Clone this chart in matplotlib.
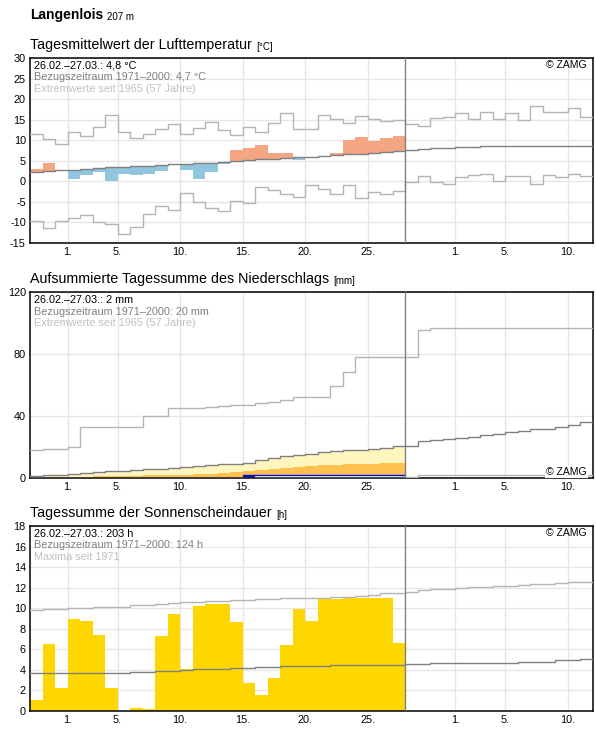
import numpy as np
import matplotlib
matplotlib.use('Agg')
from matplotlib import pyplot as plt

plt.rcParams['font.family'] = ['Liberation Sans', 'DejaVu Sans']
plt.rcParams['axes.unicode_minus'] = False

# ---------- Data ---------- #
# days from 26.02. (day 0) to 11.04. (day 44), observed period = first 30 days
tick_pos = [3, 7, 12, 17, 22, 27, 34, 38, 43]
tick_labels = ['1.', '5.', '10.', '15.', '20.', '25.', '1.', '5.', '10.']

temp_actual = [3.1, 4.55, 2.6, 0.65, 1.6, 2.3, 0.0, 1.7, 1.46, 1.7,
               2.6, 4.0, 2.85, 0.65, 2.35, 4.3, 7.5, 8.0, 8.9, 7.0,
               7.0, 5.2, 6.0, 6.2, 7.0, 10.1, 10.7, 9.75, 10.5, 11.0]
temp_mean = [2.3, 2.5, 2.7, 2.8, 3.0, 3.2, 3.4, 3.5, 3.65, 3.85,
             4.0, 4.1, 4.25, 4.35, 4.45, 4.65, 4.9, 5.15, 5.35, 5.55,
             5.65, 5.8, 6.0, 6.2, 6.4, 6.6, 6.75, 6.95, 7.2, 7.45,
             7.6, 7.8, 8.05, 8.2, 8.4, 8.45, 8.5, 8.5, 8.5, 8.5,
             8.5, 8.5, 8.5, 8.5, 8.5]
temp_max = [11.5, 10.2, 9.1, 12.0, 11.05, 13.25, 16.1, 12.0, 10.6, 11.5,
            12.75, 14.0, 11.5, 13.0, 14.5, 12.5, 11.3, 13.25, 12.0, 14.2,
            16.6, 12.8, 12.8, 16.2, 15.2, 14.3, 16.0, 15.1, 14.6, 14.8,
            14.0, 13.5, 15.5, 15.7, 16.5, 15.2, 16.8, 15.2, 16.5, 14.8,
            18.4, 16.8, 16.8, 17.9, 15.7]
temp_min = [-9.6, -11.4, -9.75, -8.9, -8.3, -9.9, -10.4, -12.85, -11.2, -8.0,
            -6.0, -7.0, -2.8, -5.0, -6.5, -7.2, -4.7, -5.2, -1.5, -2.0,
            -3.1, -3.8, -0.8, -1.9, -3.1, -0.8, -4.1, -2.7, -3.1, -2.4,
            -0.2, 1.4, -0.2, -0.7, 1.0, 1.45, 1.85, 0.15, 1.2, 1.2,
            -0.55, 1.45, 1.0, 1.7, 1.3]

rain_daily = [0, 0, 0, 0, 0, 0, 0, 0, 0, 0,
              0, 0, 0, 0, 0, 0, 0, 1.8, 0, 0,
              0, 0, 0, 0, 0, 0, 0, 0, 0, 0]
rain_mean = [1.1, 1.7, 1.9, 2.6, 3.2, 3.7, 4.3, 4.7, 5.2, 6.0,
             6.0, 6.5, 7.1, 7.8, 8.6, 9.1, 9.3, 9.5, 11.6, 12.7,
             14.2, 15.1, 15.7, 16.6, 17.3, 17.9, 18.3, 19.0, 19.4, 20.5,
             20.7, 23.7, 24.4, 25.2, 25.9, 26.5, 27.6, 28.5, 29.6, 30.4,
             31.3, 31.9, 32.6, 34.1, 36.0]
rain_low = [0.2, 0.4, 0.4, 0.6, 0.9, 1.1, 1.3, 1.3, 1.5, 1.9,
            1.9, 1.9, 2.2, 2.4, 2.6, 3.5, 4.1, 4.7, 5.2, 5.6,
            6.5, 7.1, 7.8, 8.2, 8.4, 8.8, 9.1, 9.3, 9.5, 9.5]
rain_max = [18.3, 18.8, 19.0, 20.0, 32.6, 32.6, 32.6, 32.6, 32.6, 40.0,
            40.0, 45.0, 45.0, 45.2, 46.0, 46.6, 47.3, 47.3, 48.2, 49.0,
            50.2, 52.0, 52.2, 52.5, 59.5, 68.2, 78.1, 78.1, 78.1, 78.1,
            78.1, 95.4, 96.7, 96.7, 96.7, 96.7, 96.7, 96.7, 96.7, 96.7,
            96.7, 96.7, 96.7, 96.7, 96.7]
rain_min = [0] * 30 + [0.6] + [2.1] * 14

sun_actual = [1.07, 6.5, 2.24, 8.95, 8.76, 7.4, 2.24, 0.0, 0.3, 0.2,
              7.3, 9.44, 4.05, 10.2, 10.4, 10.4, 8.66, 2.72, 1.56, 3.2,
              6.42, 9.9, 8.76, 11.0, 10.9, 11.0, 11.0, 11.0, 11.0, 6.6]
sun_mean = [3.67] * 8 + [3.76] * 2 + [3.86] * 2 + [3.96, 4.05] + [4.1] * 2 + \
           [4.2] * 2 + [4.3] * 2 + [4.42] * 4 + [4.5] * 6 + [4.6] * 2 + \
           [4.7] * 7 + [4.8] * 3 + [4.93] * 2 + [5.1]
sun_max = [9.83, 9.93, 9.93, 10.0, 10.0, 10.1, 10.15, 10.15, 10.3, 10.3,
           10.4, 10.5, 10.57, 10.57, 10.67, 10.67, 10.77, 10.77, 10.87, 10.87,
           10.96, 10.95, 10.95, 10.95, 11.06, 11.06, 11.19, 11.29, 11.45, 11.45,
           11.58, 11.74, 11.84, 11.84, 11.94, 12.03, 12.03, 12.13, 12.13, 12.23,
           12.36, 12.36, 12.45, 12.55, 12.55]

# ---------- Style ---------- #
C_MEAN = '#808080'
C_EXT = '#b4b4b4'
C_GRID = '#e6e6e6'
LW = 1.0
N_DAYS = 45
N_OBS = 30

W, H = 596, 729


def px_axes(top, bottom):
    return [30 / W, 1 - bottom / H, 563 / W, (bottom - top) / H]


def step_line(ax, values, **kw):
    x = np.arange(len(values) + 1)
    y = np.append(values, values[-1])
    ax.step(x, y, where='post', **kw)


def step_fill(ax, values, color, zorder):
    x = np.arange(len(values) + 1)
    y = np.append(values, values[-1])
    ax.fill_between(x, 0, y, step='post', color=color, linewidth=0, zorder=zorder)


def setup(ax, ylim, yticks):
    ax.set_xlim(0, N_DAYS)
    ax.set_ylim(*ylim)
    ax.set_xticks(tick_pos)
    ax.set_xticklabels(tick_labels)
    ax.set_yticks(yticks)
    ax.tick_params(length=0, labelsize=7.8, pad=3)
    ax.grid(True, color=C_GRID, linewidth=1, zorder=0)
    ax.set_axisbelow(True)
    for s in ax.spines.values():
        s.set_linewidth(1.1)
    ax.axvline(N_OBS, color=C_MEAN, linewidth=1, zorder=4)


def info_text(ax, lines):
    colors = ['black', '#808080', '#c0c0c0']
    for i, (s, c) in enumerate(zip(lines, colors)):
        ax.text(4 / 563, 1 - (7.7 + 11.8 * i) / 185, s, transform=ax.transAxes,
                color=c, fontsize=7.8, va='center', ha='left', zorder=6)


def panel_title(fig, y_px, title, unit):
    t = fig.text(30 / W, 1 - y_px / H, title, fontsize=10.3, va='baseline')
    fig.canvas.draw()
    plt.annotate(unit, xy=(1, 0), xycoords=t, xytext=(3, 0),
                 textcoords='offset points', fontsize=7, va='bottom')


fig = plt.figure(figsize=(W / 100, H / 100), dpi=100)

t = fig.text(30 / W, 1 - 19 / H, 'Langenlois', fontsize=10, fontweight='bold', va='baseline')

# ---------- Temperature ---------- #
ax1 = fig.add_axes(px_axes(58, 243))
setup(ax1, (-15, 30), np.arange(-15, 31, 5))
act = np.array(temp_actual)
clim = np.array(temp_mean[:N_OBS])
cols = ['#f4a582' if a > c else '#92c5de' for a, c in zip(act, clim)]
ax1.bar(np.arange(N_OBS), act - clim, bottom=clim, width=1, align='edge',
        color=cols, linewidth=0, zorder=2)
step_line(ax1, temp_max, color=C_EXT, linewidth=LW, zorder=3)
step_line(ax1, temp_min, color=C_EXT, linewidth=LW, zorder=3)
step_line(ax1, temp_mean, color=C_MEAN, linewidth=LW, zorder=3)
info_text(ax1, ['26.02.\u201327.03.: 4,8 °C', 'Bezugszeitraum 1971\u20132000: 4,7 °C',
                'Extremwerte seit 1965 (57 Jahre)'])
ax1.text(1 - 6 / 563, 1 - 7 / 185, '© ZAMG', transform=ax1.transAxes,
         ha='right', va='center', fontsize=7.5, zorder=6)

# ---------- Precipitation ---------- #
ax2 = fig.add_axes(px_axes(292, 478))
setup(ax2, (0, 120), [0, 40, 80, 120])
rain_cum = np.cumsum(rain_daily)
step_fill(ax2, rain_mean[:N_OBS], '#fff5be', 1)
step_fill(ax2, rain_low, '#fec04e', 1.5)
step_fill(ax2, rain_cum, 'white', 1.8)
ax2.bar(np.arange(N_OBS), rain_daily, width=1, align='edge', color='#0000e6',
        linewidth=0, zorder=2)
step_line(ax2, rain_cum, color='#0000e6', linewidth=1, zorder=2.2)
step_line(ax2, rain_max, color=C_EXT, linewidth=LW, zorder=3)
step_line(ax2, rain_min, color=C_EXT, linewidth=LW, zorder=3)
step_line(ax2, rain_mean, color=C_MEAN, linewidth=LW, zorder=3)
info_text(ax2, ['26.02.\u201327.03.: 2 mm', 'Bezugszeitraum 1971\u20132000: 20 mm',
                'Extremwerte seit 1965 (57 Jahre)'])
ax2.text(1 - 6 / 563, 6 / 185, '© ZAMG', transform=ax2.transAxes,
         ha='right', va='center', fontsize=7.5, zorder=6,
         bbox=dict(facecolor='white', edgecolor='none', pad=1))

# ---------- Sunshine ---------- #
ax3 = fig.add_axes(px_axes(526, 711))
setup(ax3, (0, 18), np.arange(0, 19, 2))
ax3.bar(np.arange(N_OBS), sun_actual, width=1, align='edge', color='#ffd700',
        linewidth=0, zorder=2)
step_line(ax3, sun_max, color=C_EXT, linewidth=LW, zorder=3)
step_line(ax3, sun_mean, color=C_MEAN, linewidth=LW, zorder=3)
info_text(ax3, ['26.02.\u201327.03.: 203 h', 'Bezugszeitraum 1971\u20132000: 124 h',
                'Maxima seit 1971'])
ax3.text(1 - 6 / 563, 1 - 7 / 185, '© ZAMG', transform=ax3.transAxes,
         ha='right', va='center', fontsize=7.5, zorder=6)

# ---------- Titles ---------- #
fig.canvas.draw()
plt.annotate('207 m', xy=(1, 0), xycoords=t, xytext=(3, 0),
             textcoords='offset points', fontsize=7, va='bottom')
panel_title(fig, 49, 'Tagesmittelwert der Lufttemperatur', '[°C]')
panel_title(fig, 283, 'Aufsummierte Tagessumme des Niederschlags', '[mm]')
panel_title(fig, 517, 'Tagessumme der Sonnenscheindauer', '[h]')

fig.savefig('out.png', dpi=100)
